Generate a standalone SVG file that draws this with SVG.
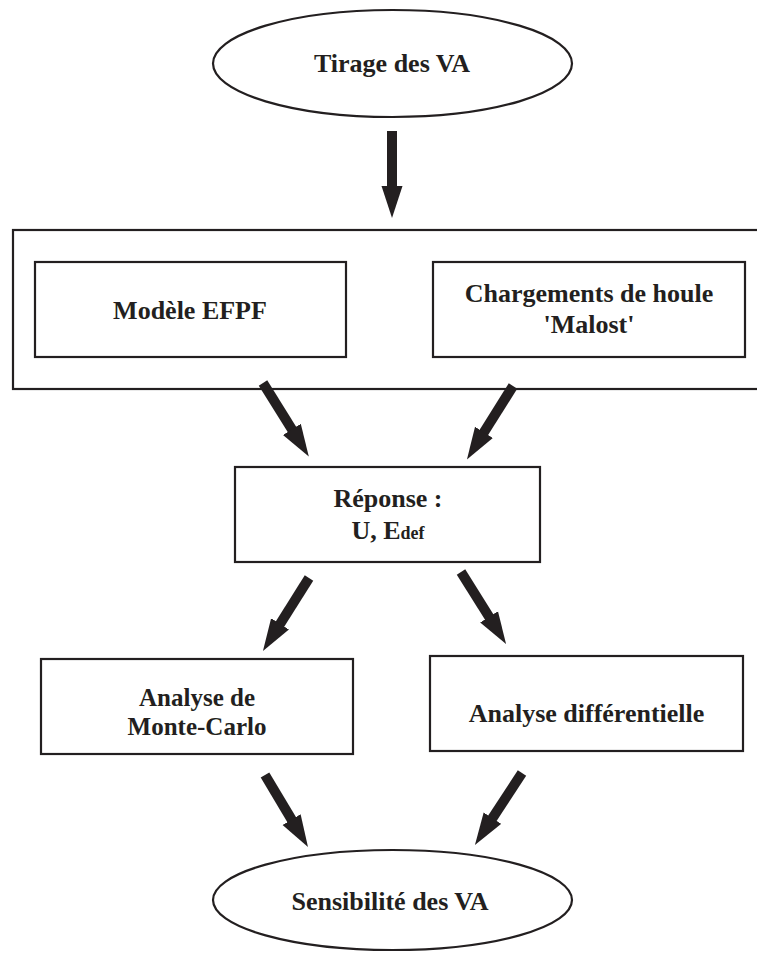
<svg xmlns="http://www.w3.org/2000/svg" width="757" height="954" viewBox="0 0 757 954">
<style>
.n{fill:#fff;stroke:#231f20;stroke-width:2.2}
.t{font-family:"Liberation Serif","Times New Roman",serif;font-weight:bold;font-size:26px;fill:#231f20;text-anchor:middle}
.m{font-size:25px}
.s{font-size:18px}
.a{stroke:#231f20;stroke-width:10;fill:none;marker-end:url(#ah)}
</style>
<defs>
<marker id="ah" markerUnits="userSpaceOnUse" markerWidth="32" markerHeight="22" viewBox="0 0 32 22" refX="1" refY="11" orient="auto">
<path d="M0,0.5 L32,11 L0,21.5 z" fill="#231f20"/>
</marker>
</defs>
<rect width="757" height="954" fill="#fff"/>
<g id="tirage">
<ellipse class="n" cx="392.5" cy="63.5" rx="179.5" ry="53.5"/>
<text class="t" x="392" y="72">Tirage des VA</text>
</g>
<g id="groupe">
<rect class="n" x="13" y="230" width="750" height="159"/>
</g>
<g id="modele">
<rect class="n" x="35" y="262" width="311" height="95"/>
<text class="t" x="190" y="319">Modèle EFPF</text>
</g>
<g id="chargements">
<rect class="n" x="433" y="262" width="312" height="95"/>
<text class="t" x="589" y="302">Chargements de houle</text>
<text class="t" x="589" y="333">'Malost'</text>
</g>
<g id="reponse">
<rect class="n" x="235" y="467" width="305" height="95"/>
<text class="t" x="388" y="507">Réponse :</text>
<text class="t" x="388" y="539">U, E<tspan class="s">def</tspan></text>
</g>
<g id="montecarlo">
<rect class="n" x="41" y="659" width="312" height="95"/>
<text class="t m" x="197" y="706">Analyse de</text>
<text class="t m" x="197" y="735">Monte-Carlo</text>
</g>
<g id="differentielle">
<rect class="n" x="430" y="656" width="313" height="95"/>
<text class="t" x="586.5" y="722">Analyse différentielle</text>
</g>
<g id="sensibilite">
<ellipse class="n" cx="392.5" cy="900" rx="179.5" ry="50"/>
<text class="t" x="390" y="910">Sensibilité des VA</text>
</g>
<g id="connectors">
<line class="a" x1="392" y1="131" x2="392" y2="187"/>
<line class="a" x1="263" y1="383" x2="292.4" y2="430.2"/>
<line class="a" x1="513" y1="386" x2="483.4" y2="433.2"/>
<line class="a" x1="309" y1="578" x2="279.5" y2="624.8"/>
<line class="a" x1="461" y1="572" x2="489.6" y2="617.7"/>
<line class="a" x1="265" y1="775" x2="292.1" y2="820.4"/>
<line class="a" x1="522" y1="773" x2="491.9" y2="819"/>
</g>
</svg>
